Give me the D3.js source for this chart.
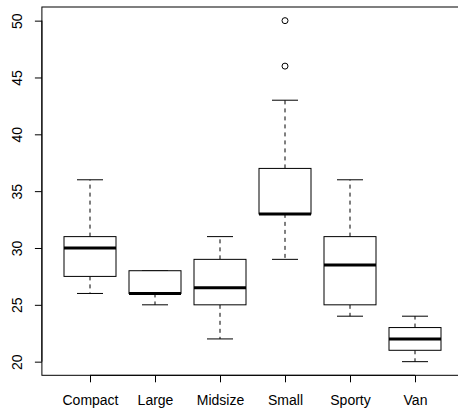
<!DOCTYPE html>
<html>
<head>
<meta charset="utf-8">
<script src="https://cdn.jsdelivr.net/npm/d3@7"></script>
<style>
  body { margin: 0; background: #fff; }
  svg text { font-family: "Liberation Sans", Arial, sans-serif; font-size: 14px; fill: #000; }
</style>
</head>
<body>
<div id="chart-holder"></div>
<script>
// Highway MPG by car type (box plot stats)
const types = ["Compact", "Large", "Midsize", "Small", "Sporty", "Van"];
const lowWhisker = [26, 25, 22, 29, 24, 20];
const lowerQuartile = [27.5, 26, 25, 33, 25, 21];
const medians = [30, 26, 26.5, 33, 28.5, 22];
const upperQuartile = [31, 28, 29, 37, 31, 23];
const highWhisker = [36, 28, 31, 43, 36, 24];
const outliers = [[], [], [], [46, 50], [], []];
const yTicks = [20, 25, 30, 35, 40, 45, 50];

const width = 458;
const height = 411;

const boxes = types.map((t, i) => ({
  type: t,
  pos: i + 1,
  lo: lowWhisker[i],
  q1: lowerQuartile[i],
  med: medians[i],
  q3: upperQuartile[i],
  hi: highWhisker[i],
  out: outliers[i]
}));

// R style: 4% padding around the data range
const x = d3.scaleLinear().domain([0.26, 6.74]).range([41.9, 463.1]);
const y = d3.scaleLinear().domain([18.8, 51.2]).range([375.3, 7]);
const boxW = (x(1.4) - x(0.6));
const stapleW = boxW / 2;

const svg = d3.select("#chart-holder")
  .append("svg")
  .attr("width", width)
  .attr("height", height);

// plot frame
svg.append("rect")
  .attr("x", x.range()[0])
  .attr("y", y.range()[1])
  .attr("width", x.range()[1] - x.range()[0])
  .attr("height", y.range()[0] - y.range()[1])
  .attr("fill", "none")
  .attr("stroke", "#000")
  .attr("stroke-width", 1);

// left axis
const yAxis = svg.append("g")
  .attr("transform", `translate(${x.range()[0]},0)`)
  .call(d3.axisLeft(y).tickValues(yTicks).tickSizeOuter(0).tickSize(7).tickPadding(0).tickFormat(d3.format("d")));
yAxis.select(".domain").attr("d", `M0,${y(20)}V${y(50)}`).attr("stroke", "#000");
yAxis.selectAll(".tick line").attr("stroke", "#000");
yAxis.selectAll(".tick text")
  .attr("x", 0)
  .attr("dy", null)
  .attr("transform", "translate(-20,0) rotate(-90)")
  .attr("text-anchor", "middle")
  .style("font-family", "Liberation Sans, Arial, sans-serif")
  .style("font-size", "14px");

// bottom axis
const xAxis = svg.append("g")
  .attr("transform", `translate(0,${y.range()[0]})`)
  .call(d3.axisBottom(x).tickValues(boxes.map(b => b.pos)).tickSizeOuter(0).tickSize(7)
    .tickFormat((d, i) => types[i]));
xAxis.select(".domain").attr("d", `M${x(1)},0H${x(6)}`).attr("stroke", "#000");
xAxis.selectAll(".tick line").attr("stroke", "#000");
xAxis.selectAll(".tick text")
  .attr("y", 30)
  .attr("dy", null)
  .style("font-family", "Liberation Sans, Arial, sans-serif")
  .style("font-size", "14px");

const g = svg.selectAll(".box")
  .data(boxes)
  .enter()
  .append("g")
  .attr("class", "box");

// whiskers (dashed)
g.append("line")
  .attr("x1", d => x(d.pos)).attr("x2", d => x(d.pos))
  .attr("y1", d => y(d.q3)).attr("y2", d => y(d.hi))
  .attr("stroke", "#000").attr("stroke-dasharray", "4,4");
g.append("line")
  .attr("x1", d => x(d.pos)).attr("x2", d => x(d.pos))
  .attr("y1", d => y(d.q1)).attr("y2", d => y(d.lo))
  .attr("stroke", "#000").attr("stroke-dasharray", "4,4");

// staples
g.append("line")
  .attr("x1", d => x(d.pos) - stapleW / 2).attr("x2", d => x(d.pos) + stapleW / 2)
  .attr("y1", d => y(d.hi)).attr("y2", d => y(d.hi))
  .attr("stroke", "#000");
g.append("line")
  .attr("x1", d => x(d.pos) - stapleW / 2).attr("x2", d => x(d.pos) + stapleW / 2)
  .attr("y1", d => y(d.lo)).attr("y2", d => y(d.lo))
  .attr("stroke", "#000");

// boxes
g.append("rect")
  .attr("x", d => x(d.pos) - boxW / 2)
  .attr("y", d => y(d.q3))
  .attr("width", boxW)
  .attr("height", d => y(d.q1) - y(d.q3))
  .attr("fill", "#fff")
  .attr("stroke", "#000");

// medians
g.append("line")
  .attr("x1", d => x(d.pos) - boxW / 2).attr("x2", d => x(d.pos) + boxW / 2)
  .attr("y1", d => y(d.med)).attr("y2", d => y(d.med))
  .attr("stroke", "#000").attr("stroke-width", 3);

// outliers
g.selectAll("circle")
  .data(d => d.out.map(v => ({ pos: d.pos, v })))
  .enter()
  .append("circle")
  .attr("cx", d => x(d.pos))
  .attr("cy", d => y(d.v))
  .attr("r", 3)
  .attr("fill", "none")
  .attr("stroke", "#000");
</script>
</body>
</html>
